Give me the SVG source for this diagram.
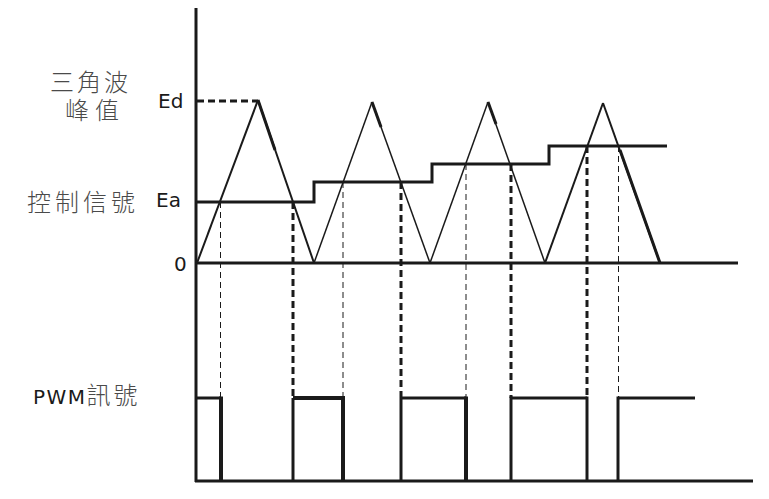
<svg xmlns="http://www.w3.org/2000/svg" width="769" height="499" viewBox="0 0 769 499">
<style>
.ln{stroke:#1a1a1a;fill:none;stroke-linecap:butt;stroke-linejoin:miter}
.w3{stroke-width:3}
.w2{stroke-width:2}
.w15{stroke-width:1.5}
.w4{stroke-width:4}
.dthin{stroke:#1a1a1a;stroke-width:1;stroke-dasharray:6 4;fill:none}
.dthick{stroke:#1a1a1a;stroke-width:3;stroke-dasharray:7 4;fill:none}
.cjk{font-family:"Noto Sans CJK TC","Noto Sans CJK SC",sans-serif;font-size:24px;fill:#4a4a4a;font-weight:300}
.lat{font-family:"DejaVu Sans",sans-serif;font-size:20px;fill:#1a1a1a}
</style>
<rect width="769" height="499" fill="#ffffff"/>
<g id="labels">
<text class="cjk"><tspan x="50" y="91" letter-spacing="3">三角波</tspan><tspan x="65" y="119" letter-spacing="6">峰值</tspan></text>
<text class="cjk" x="27" y="211" letter-spacing="4">控制信號</text>
<text class="lat" x="158" y="108">Ed</text>
<text class="lat" x="156" y="207">Ea</text>
<text class="lat" x="174" y="271">0</text>
<text x="33" y="404"><tspan class="lat" font-size="21" letter-spacing="1.5">PWM</tspan><tspan class="cjk" font-size="25" letter-spacing="3" dx="0">訊號</tspan></text>
</g>
<g id="axes">
<line class="ln w3" x1="196" y1="8" x2="196" y2="482"/>
<line class="ln w3" x1="195" y1="263" x2="738" y2="263"/>
<line class="ln w3" x1="195" y1="481" x2="753" y2="481"/>
<line class="ln w3" x1="197" y1="101" x2="258" y2="101" stroke-dasharray="7 4"/>
</g>
<g id="control-signal">
<polyline class="ln w3" points="197,202 314,202 314,182 432,182 432,164 549,164 549,146 667,146"/>
</g>
<g id="triangle">
<line class="ln w2" x1="197" y1="263" x2="258" y2="100"/>
<line class="ln w2" x1="258" y1="100" x2="314" y2="263"/>
<line class="ln w15" x1="314" y1="263" x2="372" y2="102"/>
<line class="ln w15" x1="372" y1="102" x2="430" y2="263"/>
<line class="ln w15" x1="430" y1="263" x2="488" y2="102"/>
<line class="ln w15" x1="488" y1="102" x2="545" y2="263"/>
<line class="ln w2" x1="545" y1="263" x2="603" y2="103"/>
<line class="ln w2" x1="603" y1="103" x2="660" y2="263"/>
<line class="ln w3" x1="258" y1="100" x2="275" y2="150"/>
<line class="ln w3" x1="372" y1="102" x2="381" y2="127"/>
<line class="ln w3" x1="488" y1="102" x2="496" y2="124"/>
<line class="ln w3" x1="620" y1="150" x2="660" y2="263"/>
</g>
<g id="connectors">
<line class="dthin" x1="220.5" y1="202" x2="220.5" y2="398"/>
<line class="dthin" x1="343" y1="182" x2="343" y2="398"/>
<line class="dthin" x1="466" y1="164" x2="466" y2="398"/>
<line class="dthin" x1="618.5" y1="146" x2="618.5" y2="398"/>
<line class="dthick" x1="293" y1="202" x2="293" y2="398"/>
<line class="dthick" x1="401" y1="182" x2="401" y2="398"/>
<line class="dthick" x1="511" y1="164" x2="511" y2="398"/>
<line class="dthick" x1="587" y1="146" x2="587" y2="398"/>
</g>
<g id="pwm">
<line class="ln w3" x1="196" y1="398" x2="221" y2="398"/>
<line class="ln w4" x1="221" y1="396.5" x2="221" y2="481"/>
<line class="ln w3" x1="293" y1="398" x2="293" y2="481"/>
<line class="ln w4" x1="293" y1="398" x2="343" y2="398"/>
<line class="ln w4" x1="343" y1="396" x2="343" y2="481"/>
<line class="ln w3" x1="401" y1="398" x2="401" y2="481"/>
<line class="ln w3" x1="401" y1="398" x2="466" y2="398"/>
<line class="ln w4" x1="466" y1="396.5" x2="466" y2="481"/>
<line class="ln w3" x1="511" y1="396.5" x2="511" y2="481"/>
<line class="ln w3" x1="511" y1="398" x2="587" y2="398"/>
<line class="ln w3" x1="587" y1="396.5" x2="587" y2="481"/>
<line class="ln w3" x1="618" y1="396.5" x2="618" y2="481"/>
<line class="ln w3" x1="618" y1="398" x2="695" y2="398"/>
</g>
</svg>
